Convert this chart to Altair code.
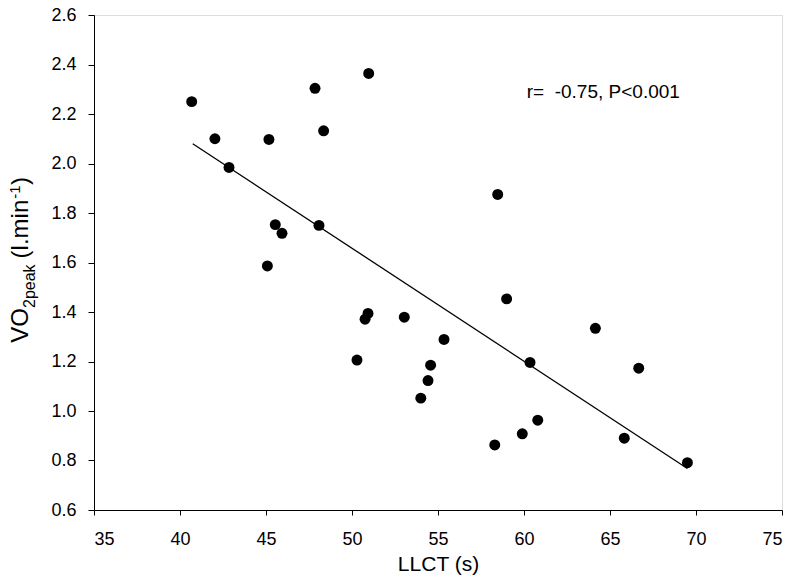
import altair as alt
import pandas as pd

# Data
llct = [40.68, 42.03, 42.85, 45.17, 45.08, 45.54, 45.93, 47.85, 48.08, 48.35,
        50.97, 50.29, 50.76, 50.93, 53.04, 55.35, 54.57, 54.42, 54.0, 58.3,
        58.47, 58.99, 59.9, 60.35, 60.8, 64.15, 65.83, 66.67, 69.5]
vo2 = [2.25, 2.10, 1.984, 2.097, 1.586, 1.753, 1.718, 2.304, 1.75, 2.132,
       2.364, 1.206, 1.371, 1.394, 1.379, 1.289, 1.185, 1.123, 1.052, 0.863,
       1.875, 1.453, 0.908, 1.196, 0.963, 1.334, 0.89, 1.173, 0.791]

fit_x = [40.74, 69.5]
fit_y = [2.08, 0.768]

x_ticks = [35, 40, 45, 50, 55, 60, 65, 70, 75]
y_ticks = [0.6, 0.8, 1.0, 1.2, 1.4, 1.6, 1.8, 2.0, 2.2, 2.4, 2.6]

annotation = "r=\u00a0 -0.75, P<0.001"

FONT = "Liberation Sans"

pts = pd.DataFrame({"llct": llct, "vo2": vo2})
fit = pd.DataFrame({"llct": fit_x, "vo2": fit_y})
one = pd.DataFrame({"k": [0]})

xscale = alt.Scale(domain=[35, 75], nice=False, zero=False)
yscale = alt.Scale(domain=[0.6, 2.6], nice=False, zero=False)

xaxis = alt.Axis(values=x_ticks, format="d", grid=False, title="LLCT (s)",
                 labelFont=FONT, labelFontSize=18, labelColor="black",
                 labelPadding=15, tickSize=5, tickColor="black",
                 domainColor="black", titleFont=FONT, titleFontSize=21,
                 titleFontWeight="normal", titleColor="black",
                 titleY=60, titleBaseline="alphabetic")
yaxis = alt.Axis(values=y_ticks, format=".1f", grid=False, title=None,
                 labelFont=FONT, labelFontSize=18, labelColor="black",
                 labelPadding=12, tickSize=6, tickColor="black",
                 domainColor="black")

points = alt.Chart(pts).mark_circle(size=120, color="black", opacity=1).encode(
    x=alt.X("llct:Q", scale=xscale, axis=xaxis),
    y=alt.Y("vo2:Q", scale=yscale, axis=yaxis),
)

line = alt.Chart(fit).mark_line(color="black", strokeWidth=1.3).encode(
    x=alt.X("llct:Q", scale=xscale),
    y=alt.Y("vo2:Q", scale=yscale),
)

ann = alt.Chart(one).mark_text(font=FONT, fontSize=19, align="left",
                               baseline="alphabetic", color="black").encode(
    x=alt.value(432.7), y=alt.value(83.3), text=alt.value(annotation)
)

def ypiece(txt, vx, vy, size):
    return alt.Chart(one).mark_text(font=FONT, fontSize=size, angle=270,
                                    align="left", baseline="alphabetic",
                                    color="black").encode(
        x=alt.value(vx), y=alt.value(vy), text=alt.value(txt)
    )

ytitle = [
    ypiece("VO", -65.7, 327.7, 24),
    ypiece("2peak", -59.5, 293, 16),
    ypiece("(l.min", -65.7, 243.4, 24),
    ypiece("-1", -74.5, 183.7, 15),
    ypiece(")", -65.7, 170, 24),
]

chart = alt.layer(line, points, ann, *ytitle).properties(
    width=688, height=495,
    autosize=alt.AutoSizeParams(type="none"),
    padding={"left": 86, "top": 7, "right": 10, "bottom": 65},
).configure_view(stroke=None).configure(background="white")

chart.save("out.html", embed_options={"renderer": "svg", "actions": False})
